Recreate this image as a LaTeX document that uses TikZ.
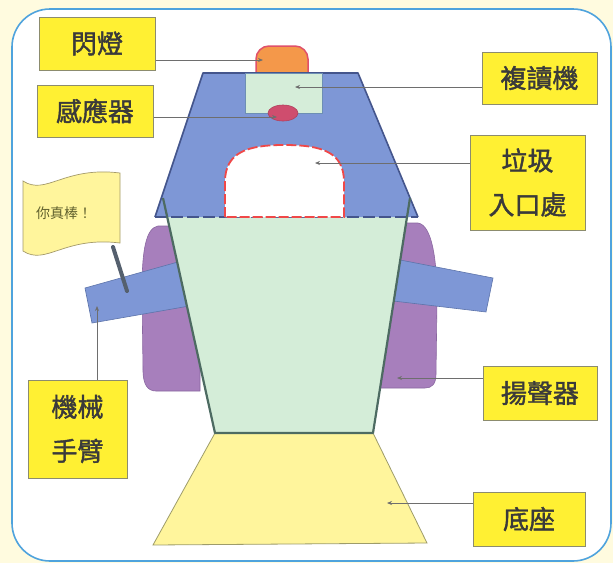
\documentclass[tikz,border=0pt]{standalone}
\usepackage{fontspec}
\newfontfamily\cjk{Noto Sans CJK TC}
\newfontfamily\cjkheavy{Noto Sans CJK TC}[FakeBold=1.6]
\usetikzlibrary{arrows.meta}

\definecolor{bgout}{HTML}{FFFBDF}
\definecolor{frame}{HTML}{4FA3DD}
\definecolor{lblfill}{HTML}{FFF033}
\definecolor{lblborder}{HTML}{8C8C6E}
\definecolor{roof}{HTML}{7E97D6}
\definecolor{roofline}{HTML}{44558C}
\definecolor{copyfill}{HTML}{D5EDD9}
\definecolor{copyline}{HTML}{6D8FB4}
\definecolor{trunk}{HTML}{D4EDD8}
\definecolor{trunkline}{HTML}{4D6B62}
\definecolor{basefill}{HTML}{FFF59C}
\definecolor{baseline}{HTML}{9E9C6A}
\definecolor{spk}{HTML}{A77FBC}
\definecolor{spkline}{HTML}{8A67A0}
\definecolor{armline}{HTML}{5D74AA}
\definecolor{sensor}{HTML}{CF4D6E}
\definecolor{lampfill}{HTML}{F4984A}
\definecolor{lampline}{HTML}{E0506A}
\definecolor{trash}{HTML}{F04848}
\definecolor{arrowgray}{HTML}{6E6E6E}
\definecolor{pole}{HTML}{55606E}
\definecolor{flagline}{HTML}{A49A6A}
\definecolor{textgray}{HTML}{3A3A3A}

\begin{document}
\begin{tikzpicture}[x=1pt,y=-1pt,
  lbl/.style={draw=lblborder, fill=lblfill, line width=1pt, inner sep=0pt,
    align=center, text=textgray, font=\cjkheavy\fontsize{26}{44}\selectfont},
  conn/.style={draw=arrowgray, line width=0.8pt, -{Stealth[length=5pt,width=4pt]}},
  speaker/.style={fill=spk, draw=spkline, line width=0.6pt},
  armpart/.style={fill=roof, draw=armline, line width=0.6pt}]

% page and rounded frame
\useasboundingbox (0,0) rectangle (613,563);
\fill[bgout] (0,0) rectangle (613,563);
\filldraw[fill=white, draw=frame, line width=1.6pt, rounded corners=38pt]
  (12,9) rectangle (611,561);

% speakers on both sides
\path[speaker] (200,226) -- (158,226) .. controls (146,228) and (142,250) .. (142,290)
  -- (143,370) .. controls (143,385) and (148,391) .. (156,391) -- (200,391) -- cycle;
\path[speaker] (395,223) -- (418,223) .. controls (432,225) and (437,260) .. (437,300)
  -- (436,374) .. controls (436,384) and (432,388) .. (425,388) -- (380,388) -- cycle;

% arms
\path[armpart] (85,288) -- (185,260) -- (195,305) -- (92,323) -- cycle;
\path[armpart] (390,258) -- (493,278) -- (486,312) -- (385,300) -- cycle;

% base
\filldraw[fill=basefill, draw=baseline, line width=0.8pt]
  (215,433) -- (373,433) -- (427,543) -- (153,545) -- cycle;

% body
\fill[trunk] (167,217) -- (407,217) -- (373,433) -- (215,433) -- cycle;

% flashing lamp
\filldraw[fill=lampfill, draw=lampline, line width=1.5pt]
  (256,74) [rounded corners=13pt] -- (256,46) -- (308,46) [sharp corners] -- (308,74);

% head
\fill[roof] (203,73) -- (358,73) -- (418,217) -- (155,217) -- cycle;
\draw[roofline, line width=1.6pt, line join=round]
  (155,217) -- (203,73) -- (358,73) -- (418,217);
\draw[roofline, line width=2pt, dash pattern=on 12pt off 4pt] (155,217) -- (418,217);

% body outline
\draw[trunkline, line width=2.2pt, line join=round]
  (163,198) -- (215,433) -- (373,433) -- (410,198);

% player window and sensor
\filldraw[fill=copyfill, draw=copyline, line width=0.8pt] (245,73) rectangle (322,113);
\filldraw[fill=sensor, draw=sensor!85!black, line width=0.6pt]
  (283,113) ellipse [x radius=15pt, y radius=8pt];

% rubbish opening
\filldraw[fill=white, draw=trash, line width=1.8pt, dash pattern=on 10pt off 3pt]
  (225,217) -- (225,182) .. controls (225,152) and (248,145) .. (284,145)
  .. controls (322,145) and (344,152) .. (344,182) -- (344,217) -- cycle;

% flag
\filldraw[fill=basefill, draw=flagline, line width=0.7pt]
  (23,181) .. controls (46,196) and (64,166) .. (120,173) -- (120,243)
  .. controls (64,236) and (46,266) .. (23,251) -- cycle;
\node[text=textgray!80!yellow, font=\cjk\fontsize{14}{16}\selectfont] (praise) at (64,213) {你真棒！};
\draw[pole, line width=4pt, line cap=round] (113,247) -- (127,291);

% labels
\node[lbl, minimum width=116pt, minimum height=53pt] (lamp) at (97,43.5) {閃燈};
\node[lbl, minimum width=116pt, minimum height=52pt] (sens) at (95,111) {感應器};
\node[lbl, minimum width=115pt, minimum height=52pt] (copy) at (539.5,78) {複讀機};
\node[lbl, minimum width=115pt, minimum height=95pt] (bin) at (527.5,182.5) {垃圾\\入口處};
\node[lbl, minimum width=114pt, minimum height=54pt] (spkr) at (540,393) {揚聲器};
\node[lbl, minimum width=99pt, minimum height=98pt] (arm) at (77.5,429) {機械\\手臂};
\node[lbl, minimum width=112pt, minimum height=54pt] (base) at (529,519) {底座};

% target points
\coordinate (tLamp) at (263,60);
\coordinate (tSens) at (277,117);
\coordinate (tCopy) at (295,87);
\coordinate (tBin) at (315,163);
\coordinate (tSpkr) at (397,378);
\coordinate (tArm) at (97,306);
\coordinate (tBase) at (387,503);

% connectors
\draw[conn] (tLamp -| lamp.east) -- (tLamp);
\draw[conn] (tSens -| sens.east) -- (tSens);
\draw[conn] (tCopy -| copy.west) -- (tCopy);
\draw[conn] (tBin -| bin.west) -- (tBin);
\draw[conn] (tSpkr -| spkr.west) -- (tSpkr);
\draw[conn] (tArm |- arm.north) -- (tArm);
\draw[conn] (tBase -| base.west) -- (tBase);
\end{tikzpicture}
\end{document}
